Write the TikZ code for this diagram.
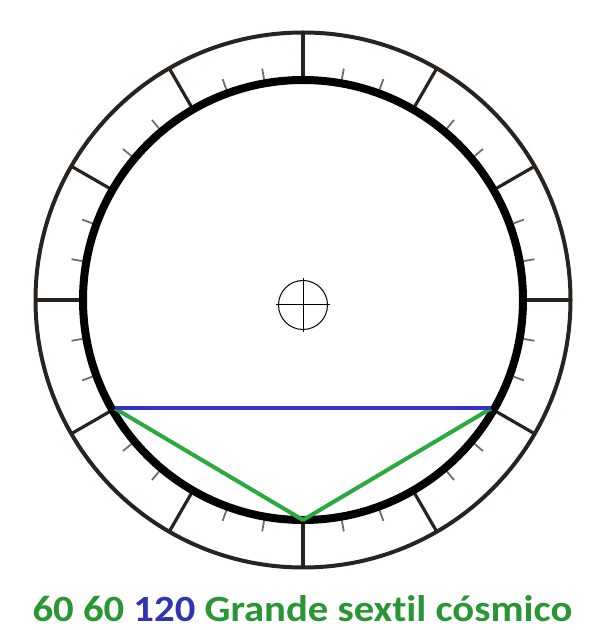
\documentclass[tikz,border=0pt]{standalone}
\usepackage{fontspec}
\setmainfont[Ligatures=NoCommon]{Carlito}
\usetikzlibrary{calc}
\definecolor{tgreen}{RGB}{40,150,50}
\definecolor{tblue}{RGB}{50,50,180}
\definecolor{chordblue}{RGB}{50,50,200}
\definecolor{chordgreen}{RGB}{40,170,60}
\definecolor{ringline}{RGB}{40,35,30}
\definecolor{tickgrey}{RGB}{110,110,110}
\tikzset{
  outerring/.style={draw=ringline, line width=4pt},
  innerring/.style={draw=black, line width=8pt},
  divline/.style={draw=ringline, line width=3.2pt},
  smalltick/.style={draw=tickgrey, line width=1.8pt},
  crosshair/.style={draw=black, line width=1pt},
  bluechord/.style={draw=chordblue, line width=4pt},
  greenchord/.style={draw=chordgreen, line width=4pt, line join=round},
}
\begin{document}
\begin{tikzpicture}[x=1pt,y=1pt]
\useasboundingbox[fill=white] (0,0) rectangle (590,630);
\coordinate (c) at (303,330);
\node[outerring, circle, minimum size=535pt, inner sep=0pt] (outer) at (c) {};
\foreach \a in {0,30,...,330} {
  \draw[divline] ($(c)+(\a:219)$) -- ($(c)+(\a:267)$);
}
\foreach \a in {10,20,40,50,70,80,100,110,130,140,160,170,190,200,220,230,250,260,280,290,310,320,340,350} {
  \draw[smalltick] ($(c)+(\a:224)$) -- ($(c)+(\a:235)$);
}
\node[innerring, circle, minimum size=440pt, inner sep=0pt] (inner) at (c) {};
\node[crosshair, circle, minimum size=49pt, inner sep=0pt] (hub) at (303,325) {};
\draw[crosshair] ($(hub.north)+(0,2)$) -- ($(hub.south)+(0,-2)$);
\draw[crosshair] ($(hub.west)+(-2,0)$) -- ($(hub.east)+(2,0)$);
\coordinate (p1) at ($(c)+(210:217)$);
\coordinate (p2) at ($(c)+(330:217)$);
\coordinate (p3) at ($(c)+(270:220)$);
\draw[greenchord] (p1) -- (p3) -- (p2);
\draw[bluechord] (p1) -- (p2);
\node[font=\fontsize{37}{44}\selectfont\bfseries, anchor=base, inner sep=0pt] (caption) at (302.5,9) {\scalebox{1.1}[1]{\textcolor{tgreen}{60 60} \textcolor{tblue}{120} \textcolor{tgreen}{Grande sextil cósmico}}};
\end{tikzpicture}
\end{document}
